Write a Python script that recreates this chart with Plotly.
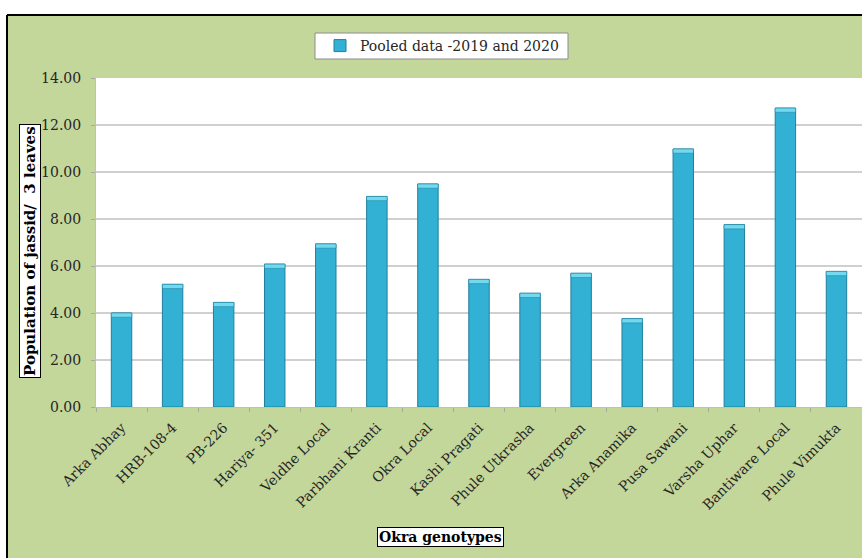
import plotly.graph_objects as go

genotypes = ["Arka Abhay", "HRB-108-4", "PB-226", "Hariya- 351", "Veldhe Local",
             "Parbhani Kranti", "Okra Local", "Kashi Pragati", "Phule Utkrasha",
             "Evergreen", "Arka Anamika", "Pusa Sawani", "Varsha Uphar",
             "Bantiware Local", "Phule Vimukta"]
pooled = [4.00, 5.22, 4.45, 6.08, 6.94, 8.96, 9.49, 5.43, 4.84, 5.69, 3.76, 10.98, 7.76, 12.72, 5.77]
y_ticks = [0, 2, 4, 6, 8, 10, 12, 14]
y_ticktext = ["%.2f" % v for v in y_ticks]

series_name = "Pooled data -2019 and 2020"
cap = 0.18

GREEN = "#c4d79b"
BAR = "#33b1d4"
BAR_LINE = "#1f7f9b"
CAP = "#72d9ef"
SERIF = "DejaVu Serif"

fig = go.Figure()
fig.add_trace(go.Bar(
    x=genotypes, y=pooled, name=series_name, width=0.4,
    marker=dict(color=BAR, line=dict(color=BAR_LINE, width=1)),
))
fig.add_trace(go.Bar(
    x=genotypes, y=[cap] * len(pooled), base=[v - cap for v in pooled],
    width=0.4, showlegend=False, hoverinfo="skip",
    marker=dict(color=CAP, line=dict(color=BAR_LINE, width=0.5)),
))

# plot area: x 96..862, y 78..407 (px)
def px_x(x):
    return (x - 96) / 766.0

def px_y(y):
    return (407 - y) / 329.0

shapes = [
    dict(type="rect", xref="paper", yref="paper", x0=px_x(-5), x1=px_x(870),
         y0=px_y(15), y1=px_y(-5), fillcolor="white", line=dict(width=0), layer="above"),
    dict(type="rect", xref="paper", yref="paper", x0=px_x(-5), x1=px_x(7),
         y0=px_y(565), y1=px_y(15), fillcolor="white", line=dict(width=0), layer="above"),
    dict(type="line", xref="paper", yref="paper", x0=px_x(7), x1=px_x(870),
         y0=px_y(15), y1=px_y(15), line=dict(color="black", width=2), layer="above"),
    dict(type="line", xref="paper", yref="paper", x0=px_x(7), x1=px_x(7),
         y0=px_y(15), y1=px_y(565), line=dict(color="black", width=2), layer="above"),
    dict(type="rect", xref="paper", yref="paper", x0=px_x(315), x1=px_x(568),
         y0=px_y(59), y1=px_y(33), fillcolor="white", line=dict(color="#8c8c8c", width=1),
         layer="below"),
]

annotations = [
    dict(text="<b>Population of jassid/  3 leaves</b>", xref="paper", yref="paper",
         x=px_x(30), y=px_y(251), xanchor="center", yanchor="middle",
         textangle=-90, showarrow=False,
         font=dict(family=SERIF, size=15, color="black"),
         bgcolor="white", bordercolor="black", borderwidth=1, borderpad=1),
    dict(text="<b>Okra genotypes</b>", xref="paper", yref="paper",
         x=px_x(440), y=px_y(537), xanchor="center", yanchor="middle", showarrow=False,
         font=dict(family=SERIF, size=14, color="black"),
         bgcolor="white", bordercolor="black", borderwidth=1, borderpad=1),
]

fig.update_layout(
    width=862, height=558,
    margin=dict(l=96, r=0, t=78, b=151),
    paper_bgcolor=GREEN, plot_bgcolor="white",
    barmode="overlay",
    showlegend=True,
    legend=dict(x=px_x(442), y=px_y(46), xanchor="center", yanchor="middle",
                bgcolor="rgba(0,0,0,0)", borderwidth=0,
                font=dict(family=SERIF, size=14, color="#262626"),
                itemwidth=30),
    shapes=shapes, annotations=annotations,
    font=dict(family=SERIF, color="#262626"),
)
fig.update_xaxes(
    tickangle=-45, tickfont=dict(family=SERIF, size=14, color="#262626"),
    ticks="outside", tickson="boundaries", ticklen=4, tickcolor="#a6a6a6",
    ticklabelstandoff=6,
    showline=True, linecolor="#bfbfbf", linewidth=1,
    range=[-0.5, 14.5],
)
fig.update_yaxes(
    range=[0, 14], tickvals=y_ticks, ticktext=y_ticktext,
    tickfont=dict(family=SERIF, size=14, color="#262626"),
    ticks="outside", ticklen=4, tickcolor="#a6a6a6",
    ticklabelstandoff=7,
    showgrid=True, gridcolor="#d0d0d0", gridwidth=1.5,
    showline=True, linecolor="#bfbfbf", linewidth=1,
    zeroline=False,
)

fig.write_html("out.html")
